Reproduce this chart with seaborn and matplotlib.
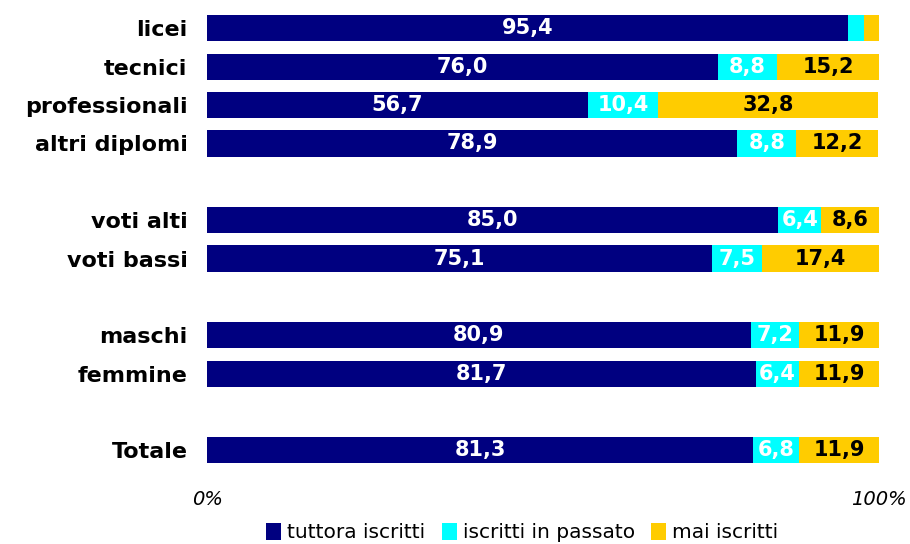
import pandas as pd
import seaborn as sns
import matplotlib.pyplot as plt
from matplotlib.patches import Patch

# -----------------------------
# Data
# -----------------------------
categories = ["licei", "tecnici", "professionali", "altri diplomi",
              "voti alti", "voti bassi", "maschi", "femmine", "Totale"]
positions = [0, 1, 2, 3, 5, 6, 8, 9, 11]
tuttora = [95.4, 76.0, 56.7, 78.9, 85.0, 75.1, 80.9, 81.7, 81.3]
passato = [2.3, 8.8, 10.4, 8.8, 6.4, 7.5, 7.2, 6.4, 6.8]
mai = [2.3, 15.2, 32.8, 12.2, 8.6, 17.4, 11.9, 11.9, 11.9]
series_names = ["tuttora iscritti", "iscritti in passato", "mai iscritti"]
colors = ["#000080", "#00FFFF", "#FFCC00"]

df = pd.DataFrame({"cat": categories, "pos": positions,
                   "a": tuttora, "b": passato, "c": mai})
df["ab"] = df["a"] + df["b"]
df["abc"] = df["ab"] + df["c"]

# -----------------------------
# Plot
# -----------------------------
sns.set_style("white")
plt.rcParams["font.family"] = ["DejaVu Sans"]
plt.rcParams["text.color"] = "black"
plt.rcParams["xtick.color"] = "black"
plt.rcParams["ytick.color"] = "black"
fig, ax = plt.subplots(figsize=(9.1, 5.44), dpi=100)
fig.subplots_adjust(left=0.2275, right=0.966, top=0.99, bottom=0.13)

# stacked: draw cumulative totals back to front
for col, color in zip(["abc", "ab", "a"], colors[::-1]):
    sns.barplot(data=df, x=col, y="pos", orient="h", native_scale=True,
                color=color, width=0.68, saturation=1, ax=ax, errorbar=None,
                linewidth=0)

# value labels
lbl = dict(ha="center", va="center", fontsize=15, fontweight="bold")
for _, r in df.iterrows():
    ax.text(r["a"] / 2, r["pos"], f"{r['a']:.1f}".replace(".", ","), color="white", **lbl)
    if r["b"] > 4:
        ax.text(r["a"] + r["b"] / 2, r["pos"], f"{r['b']:.1f}".replace(".", ","),
                color="white", **lbl)
    if r["c"] > 4:
        ax.text(r["ab"] + r["c"] / 2, r["pos"], f"{r['c']:.1f}".replace(".", ","),
                color="black", **lbl)

ax.set_xlim(0, 100)
ax.set_ylim(11.6, -0.6)
ax.set_yticks(positions)
ax.set_yticklabels(categories, fontsize=16, fontweight="bold")
ax.set_xticks([0, 100])
ax.set_xticklabels(["0%", "100%"], fontsize=14, fontstyle="italic")
ax.tick_params(axis="y", length=0, pad=14)
ax.tick_params(axis="x", length=0, pad=12)
ax.set_xlabel("")
ax.set_ylabel("")
sns.despine(ax=ax, left=True, bottom=True)

handles = [Patch(facecolor=c, edgecolor="none") for c in colors]
fig.legend(handles, series_names, loc="lower center", bbox_to_anchor=(0.574, -0.03),
           ncol=3, frameon=False, fontsize=14.5, handlelength=0.75, handleheight=0.9,
           handletextpad=0.3, columnspacing=0.8)

plt.savefig("out.png", dpi=100)
plt.close()
